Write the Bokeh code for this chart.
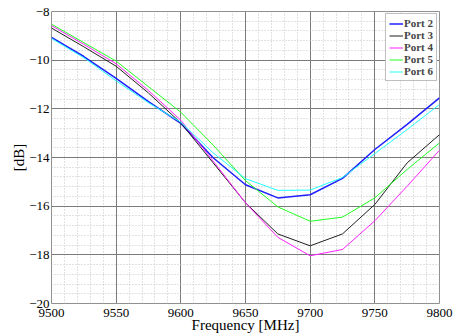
from bokeh.plotting import figure
from bokeh.models import SingleIntervalTicker, Range1d, Legend, LegendItem
from bokeh.embed import file_html
from bokeh.resources import INLINE

freq = [9500, 9525, 9550, 9575, 9600, 9625, 9650, 9675, 9700, 9725, 9750, 9775, 9800]
port2 = [-9.06, -9.85, -10.75, -11.70, -12.60, -14.01, -15.12, -15.66, -15.53, -14.86, -13.67, -12.64, -11.55]
port3 = [-8.68, -9.45, -10.25, -11.35, -12.58, -14.22, -15.86, -17.14, -17.63, -17.14, -15.93, -14.22, -13.06]
port4 = [-8.58, -9.35, -10.15, -11.25, -12.47, -14.15, -15.86, -17.28, -18.04, -17.78, -16.60, -15.18, -13.70]
port5 = [-8.52, -9.28, -10.04, -11.09, -12.14, -13.49, -14.95, -16.03, -16.62, -16.45, -15.66, -14.49, -13.40]
port6 = [-9.11, -9.90, -10.85, -11.75, -12.55, -13.81, -14.87, -15.35, -15.34, -14.82, -13.84, -12.85, -11.82]

series = [("Port 2", port2, "#1f1fff", 1.5),
          ("Port 3", port3, "#202020", 1.0),
          ("Port 4", port4, "#ff22ff", 1.0),
          ("Port 5", port5, "#22ff22", 1.0),
          ("Port 6", port6, "#22ffff", 1.0)]

FONT = "Liberation Serif"

p = figure(frame_width=388, frame_height=292, output_backend="svg", toolbar_location=None,
           x_range=Range1d(9500, 9800), y_range=Range1d(-20, -8),
           min_border_left=51, min_border_top=11, min_border_right=14, min_border_bottom=0)
p.background_fill_color = "white"
p.outline_line_color = "#909090"
p.outline_line_width = 1

items = []
for name, ys, col, w in series:
    r = p.line(freq, ys, line_color=col, line_width=w)
    items.append(LegendItem(label=name, renderers=[r]))

p.xaxis.ticker = SingleIntervalTicker(interval=50, num_minor_ticks=5)
p.yaxis.ticker = SingleIntervalTicker(interval=2, num_minor_ticks=5)

for ax in (p.xaxis[0], p.yaxis[0]):
    ax.axis_line_color = None
    ax.major_tick_line_color = None
    ax.minor_tick_line_color = None
    ax.major_tick_out = 0
    ax.major_tick_in = 0
    ax.minor_tick_out = 0
    ax.minor_tick_in = 0
    ax.major_label_text_font = FONT
    ax.major_label_text_font_size = "13px"
    ax.major_label_text_color = "black"
    ax.axis_label_text_font = FONT
    ax.axis_label_text_font_size = "15px"
    ax.axis_label_text_font_style = "normal"
    ax.axis_label_text_color = "black"
    ax.axis_label_standoff = 0
    ax.major_label_standoff = 2

p.xaxis.axis_label = "Frequency [MHz]"
p.yaxis.axis_label = "[dB]"
p.xaxis.major_label_standoff = 5
p.xaxis.axis_label_standoff = -3
p.yaxis.axis_label_standoff = -1

for g in (p.xgrid[0], p.ygrid[0]):
    g.grid_line_color = "#7a7a7a"
    g.grid_line_width = 1
    g.minor_grid_line_color = "#c4c4c4"
    g.minor_grid_line_dash = "1 2"
    g.minor_grid_line_width = 1

legend = Legend(items=items, location="top_right")
legend.label_text_font = FONT
legend.label_text_font_style = "bold"
legend.label_text_font_size = "11px"
legend.label_height = 9
legend.glyph_height = 9
legend.glyph_width = 14
legend.spacing = 0
legend.padding = 3
legend.margin = 2
legend.label_standoff = 1
legend.border_line_color = "#808080"
legend.border_line_width = 1
legend.background_fill_alpha = 1
p.add_layout(legend)

open("out.html", "w").write(file_html(p, INLINE))
